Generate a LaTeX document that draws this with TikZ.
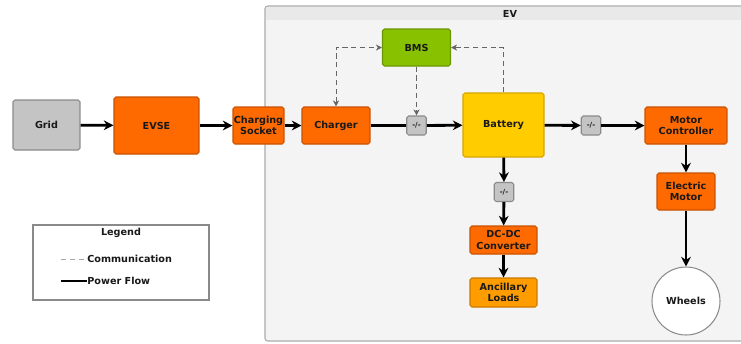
\documentclass[tikz,border=0pt]{standalone}
\usepackage{fontspec}
\setmainfont{DejaVu Sans}
\usetikzlibrary{arrows.meta}

\definecolor{evorange}{HTML}{FF6A00}
\definecolor{evorangeD}{HTML}{C85200}
\definecolor{loadorange}{HTML}{FF9C00}
\definecolor{loadorangeD}{HTML}{CC7A00}
\definecolor{battyellow}{HTML}{FFCC00}
\definecolor{battyellowD}{HTML}{D6A600}
\definecolor{bmsgreen}{HTML}{88C100}
\definecolor{bmsgreenD}{HTML}{6A9600}
\definecolor{gridgray}{HTML}{C4C4C4}
\definecolor{gridgrayD}{HTML}{8A8A8A}
\definecolor{evback}{HTML}{F4F4F4}
\definecolor{evhead}{HTML}{E9E9E9}
\definecolor{evframe}{HTML}{ABABAB}

\tikzset{
  blk/.style={rectangle, rounded corners=1pt, line width=0.6pt, align=center,
    font=\fontsize{5.5}{6.3}\selectfont\bfseries, text=black!90},
  orangeblk/.style={blk, fill=evorange, draw=evorangeD},
  switchblk/.style={blk, fill=gridgray, draw=gridgrayD, minimum width=0.39cm,
    minimum height=0.38cm, inner sep=0pt, font=\fontsize{4}{5}\selectfont\bfseries},
  power/.style={line width=1.6pt, -{Stealth[length=5.5pt,width=5.5pt]}},
  comm/.style={densely dashed, line width=0.45pt, draw=black!60},
  commtip/.style={-{Stealth[length=3.5pt,width=3.5pt]}},
  commboth/.style={{Stealth[length=3.5pt,width=3.5pt]}-{Stealth[length=3.5pt,width=3.5pt]}},
  lbl/.style={font=\fontsize{5.5}{6.3}\selectfont\bfseries, text=black!90}
}

\begin{document}
\begin{tikzpicture}[x=0.02cm, y=-0.02cm]
  \useasboundingbox (0,0) rectangle (741,343);

  % EV 区域
  \draw[evframe, fill=evback, rounded corners=1.5pt, line width=0.6pt] (265,6) rectangle (760,341);
  \fill[evhead] (265.6,6.6) rectangle (741,20);
  \node[lbl] (evlabel) at (510,13.5) {EV};

  % 充电侧
  \node[blk, fill=gridgray, draw=gridgrayD, minimum width=1.34cm, minimum height=1cm] (grid) at (46.5,125) {Grid};
  \node[orangeblk, minimum width=1.7cm, minimum height=1.14cm] (evse) at (156.5,125.5) {EVSE};
  \node[orangeblk, minimum width=1.02cm, minimum height=0.74cm, inner sep=0pt] (socket) at (258.5,125.5) {Charging\\Socket};
  \node[orangeblk, minimum width=1.36cm, minimum height=0.74cm] (charger) at (336,125.5) {Charger};

  % BMS 与电池
  \node[blk, fill=bmsgreen, draw=bmsgreenD, minimum width=1.36cm, minimum height=0.74cm] (bms) at (416.5,47.5) {BMS};
  \node[switchblk] (sw1) at (416.5,125.5) {-/-};
  \node[blk, fill=battyellow, draw=battyellowD, minimum width=1.62cm, minimum height=1.28cm] (battery) at (503.5,125) {Battery};

  % 驱动
  \node[switchblk] (sw2) at (591,125.5) {-/-};
  \node[orangeblk, minimum width=1.64cm, minimum height=0.74cm] (mc) at (686,125.5) {Motor\\Controller};
  \node[orangeblk, minimum width=1.16cm, minimum height=0.74cm] (em) at (686,191.5) {Electric\\Motor};
  \node[blk, circle, fill=white, draw=black!45, minimum size=1.36cm] (wheels) at (686,301) {Wheels};

  % 辅助负载
  \node[switchblk] (sw3) at (504,192) {-/-};
  \node[orangeblk, minimum width=1.34cm, minimum height=0.56cm, inner sep=1pt] (dcdc) at (503.5,240) {DC-DC\\Converter};
  \node[blk, fill=loadorange, draw=loadorangeD, minimum width=1.34cm, minimum height=0.58cm, inner sep=1pt] (loads) at (503.5,292.5) {Ancillary\\Loads};

  % 功率流
  \draw[power] (grid) -- (evse);
  \draw[power] (evse) -- (socket);
  \draw[power] (socket) -- (charger);
  \draw[power, -] (charger) -- (sw1);
  \draw[power] (sw1) -- (battery);
  \draw[power] (battery) -- (sw2);
  \draw[power] (sw2) -- (mc);
  \draw[power] (mc) -- (em);
  \draw[power] (em) -- (wheels);
  \draw[power] (battery) -- (sw3);
  \draw[power] (sw3) -- (dcdc);
  \draw[power] (dcdc) -- (loads);

  % 通信
  \draw[comm, commboth] (charger.north) |- (bms.west);
  \draw[comm, commtip] (bms.south) -- (sw1.north);
  \draw[comm, commtip] (battery.north) |- (bms.east);

  % 图例
  \draw[gridgrayD, fill=white, line width=0.6pt] (33,225) rectangle (209,300);
  \node[lbl] (legtitle) at (121,233) {Legend};
  \coordinate (c0) at (61,259);
  \node[lbl, anchor=west, inner sep=0pt] (legcomm) at (87,259) {Communication};
  \draw[densely dashed, line width=0.45pt, black!35] (c0) -- (legcomm.west);
  \coordinate (p0) at (61,281);
  \node[lbl, anchor=west, inner sep=0pt] (legpower) at (87,281) {Power Flow};
  \draw[line width=1.6pt] (p0) -- (legpower.west);
\end{tikzpicture}
\end{document}
